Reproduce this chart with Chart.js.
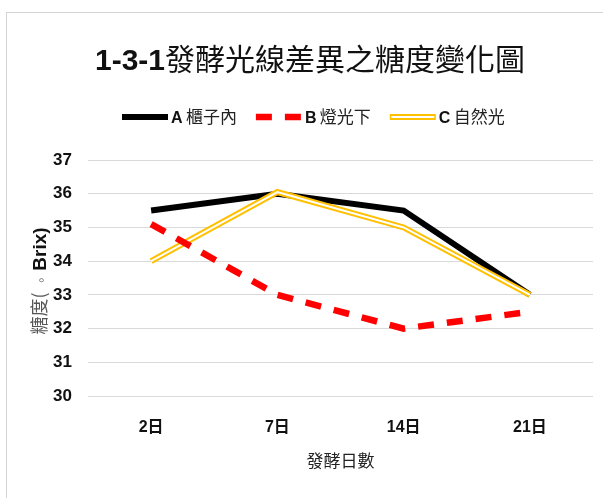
<!DOCTYPE html>
<html lang="zh-Hant">
<head>
<meta charset="UTF-8">
<title>1-3-1發酵光線差異之糖度變化圖</title>
<script src="https://cdn.jsdelivr.net/npm/chart.js"></script>
<style>
    html, body { margin: 0; padding: 0; background: #fff; }
    canvas { display: block; }
</style>
</head>
<body>
<canvas id="brixChart" width="603" height="498"></canvas>

<script>
    // 發酵天數與三種光線條件的糖度 (°Brix)
    var days = ['2日', '7日', '14日', '21日'];
    var cabinet = [35.5, 36, 35.5, 33];     // A 櫃子內
    var lamp = [35.1, 33, 32, 32.5];         // B 燈光下
    var sunlight = [34, 36.05, 35, 33];      // C 自然光
    var seriesNames = ['A 櫃子內', 'B 燈光下', 'C 自然光'];
    var yMin = 30, yMax = 37;

    var LATIN = '"Liberation Sans"';
    var CJK = '"Noto Sans CJK TC"';

    // 依序畫出不同字型的文字片段, 回傳結束的 x
    function drawRuns(ctx, runs, x, y) {
        runs.forEach(function (r) {
            ctx.font = r.font;
            ctx.fillStyle = r.color;
            ctx.fillText(r.text, x, y);
            x += ctx.measureText(r.text).width;
        });
        return x;
    }

    function runsWidth(ctx, runs) {
        var w = 0;
        runs.forEach(function (r) {
            ctx.font = r.font;
            w += ctx.measureText(r.text).width;
        });
        return w;
    }

    // 圖例的線段樣本
    function drawSample(ctx, ds, x, y, len) {
        ctx.save();
        ctx.lineCap = 'butt';
        ctx.strokeStyle = ds.borderColor;
        ctx.lineWidth = ds.borderWidth;
        ctx.setLineDash(ds.borderDash || []);
        ctx.beginPath();
        ctx.moveTo(x, y);
        ctx.lineTo(x + len, y);
        ctx.stroke();
        if (ds.innerColor) {
            ctx.setLineDash([]);
            ctx.strokeStyle = ds.innerColor;
            ctx.lineWidth = ds.innerWidth;
            ctx.beginPath();
            ctx.moveTo(x + 1.5, y);
            ctx.lineTo(x + len - 1.5, y);
            ctx.stroke();
        }
        ctx.restore();
    }

    var decorPlugin = {
        id: 'decor',
        beforeDraw: function (chart) {
            var ctx = chart.ctx;
            ctx.save();
            ctx.fillStyle = '#fff';
            ctx.fillRect(0, 0, chart.width, chart.height);
            ctx.strokeStyle = '#d4d4d4';
            ctx.lineWidth = 1;
            ctx.strokeRect(6.5, 12.5, chart.width + 20, chart.height + 20);
            ctx.restore();
        },
        // 自然光的雙線: 在金色線中間再畫一條白線
        afterDatasetDraw: function (chart, args) {
            var ds = chart.data.datasets[args.index];
            if (!ds.innerColor) return;
            var pts = args.meta.data;
            var ctx = chart.ctx;
            ctx.save();
            ctx.strokeStyle = ds.innerColor;
            ctx.lineWidth = ds.innerWidth;
            ctx.lineJoin = 'miter';
            ctx.beginPath();
            pts.forEach(function (p, i) {
                if (i === 0) ctx.moveTo(p.x, p.y); else ctx.lineTo(p.x, p.y);
            });
            ctx.stroke();
            ctx.restore();
        },
        afterDraw: function (chart) {
            var ctx = chart.ctx;
            ctx.save();
            ctx.textBaseline = 'alphabetic';

            // 標題
            var title = [
                { text: '1-3-1', font: 'bold 30px ' + LATIN, color: '#111' },
                { text: '發酵光線差異之糖度變化圖', font: '30px ' + CJK, color: '#111' }
            ];
            drawRuns(ctx, title, 310 - runsWidth(ctx, title) / 2, 70);

            // 圖例
            var x = 122;
            chart.data.datasets.forEach(function (ds, i) {
                var name = seriesNames[i];
                drawSample(ctx, ds, x, 117, 46);
                x = drawRuns(ctx, [
                    { text: name.charAt(0), font: 'bold 16px ' + LATIN, color: '#111' },
                    { text: ' ', font: '12px ' + LATIN, color: '#111' },
                    { text: name.slice(2), font: '17px ' + CJK, color: '#222' }
                ], x + 49, 123);
                x += 19;
            });

            // Y 軸標題 (直書)
            var yTitle = [
                { text: '糖度', font: '18px ' + CJK, color: '#555' },
                { text: '(', font: '18px ' + CJK, color: '#555' },
                { text: '  。 ', font: '13px ' + CJK, color: '#666' },
                { text: 'Brix)', font: 'bold 19px ' + LATIN, color: '#111' }
            ];
            ctx.translate(40, 281);
            ctx.rotate(-Math.PI / 2);
            drawRuns(ctx, yTitle, -runsWidth(ctx, yTitle) / 2, 6);
            ctx.restore();
        }
    };

    var ctx = document.getElementById('brixChart').getContext('2d');
    var brixChart = new Chart(ctx, {
        type: 'line',
        data: {
            labels: days,
            datasets: [{
                label: seriesNames[0],
                data: cabinet,
                borderColor: '#000',
                borderWidth: 6,
                order: 2
            }, {
                label: seriesNames[1],
                data: lamp,
                borderColor: '#ff0000',
                borderWidth: 6.5,
                borderDash: [16, 13],
                order: 0
            }, {
                label: seriesNames[2],
                data: sunlight,
                borderColor: '#ffc000',
                borderWidth: 6,
                innerColor: '#fff',
                innerWidth: 2,
                order: 1
            }]
        },
        options: {
            responsive: false,
            animation: false,
            layout: { padding: { top: 160, right: 10, bottom: 0, left: 0 } },
            elements: {
                point: { radius: 0, hoverRadius: 0 },
                line: { tension: 0, fill: false, borderCapStyle: 'butt' }
            },
            plugins: {
                legend: { display: false },
                title: { display: false },
                tooltip: { enabled: false }
            },
            scales: {
                x: {
                    offset: true,
                    grid: { display: false, drawTicks: false },
                    border: { display: false },
                    ticks: {
                        padding: 22,
                        color: '#111',
                        font: { family: LATIN + ', ' + CJK, size: 16, weight: 'bold' }
                    },
                    title: {
                        display: true,
                        text: '發酵日數',
                        color: '#222',
                        font: { family: CJK, size: 17 },
                        padding: { top: 0, bottom: 27 }
                    },
                    afterFit: function (scale) { scale.height = 102; }
                },
                y: {
                    min: yMin,
                    max: yMax,
                    ticks: {
                        stepSize: 1,
                        padding: 16,
                        color: '#111',
                        font: { family: LATIN, size: 17, weight: 'bold' }
                    },
                    grid: { color: '#d9d9d9', lineWidth: 1, drawTicks: false },
                    border: { display: false },
                    afterFit: function (scale) { scale.width = 88; }
                }
            }
        },
        plugins: [decorPlugin]
    });
</script>
</body>
</html>
